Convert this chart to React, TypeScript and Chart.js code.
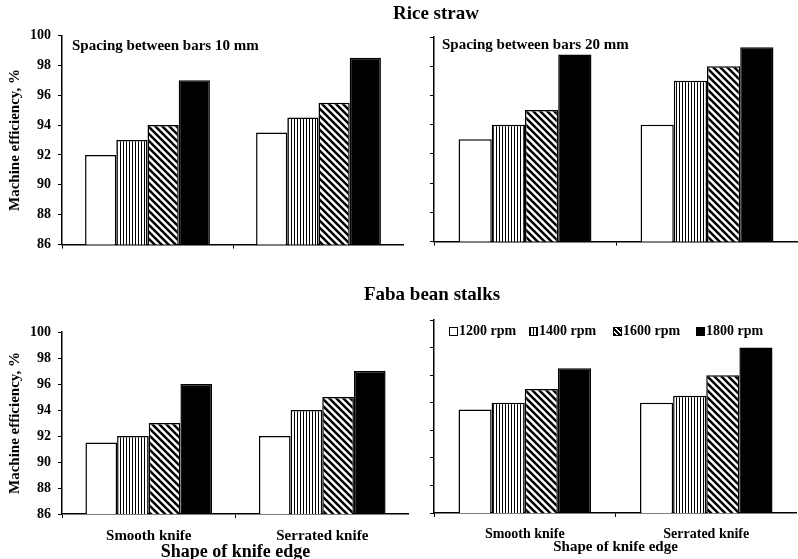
import React, { useEffect, useRef } from 'react';
import { Chart, registerables } from 'chart.js';

Chart.register(...registerables);

const categories = ['Smooth knife', 'Serrated knife'];
const seriesNames = ['1200 rpm', '1400 rpm', '1600 rpm', '1800 rpm'];
const yTickValues = [86, 88, 90, 92, 94, 96, 98, 100];

// Rice straw, spacing 10 mm
const rice10_1200 = [92, 93.5];
const rice10_1400 = [93, 94.5];
const rice10_1600 = [94, 95.5];
const rice10_1800 = [97, 98.5];
// Rice straw, spacing 20 mm
const rice20_1200 = [93, 94];
const rice20_1400 = [94, 97];
const rice20_1600 = [95, 98];
const rice20_1800 = [98.8, 99.3];
// Faba bean stalks, spacing 10 mm
const faba10_1200 = [91.5, 92];
const faba10_1400 = [92, 94];
const faba10_1600 = [93, 95];
const faba10_1800 = [96, 97];
// Faba bean stalks, spacing 20 mm
const faba20_1200 = [93.5, 94];
const faba20_1400 = [94, 94.5];
const faba20_1600 = [95, 96];
const faba20_1800 = [96.5, 98];

const FONT = '"Liberation Serif", "Times New Roman", serif';

function makePattern(kind: 'v' | 'd'): CanvasPattern | string {
  const c = document.createElement('canvas');
  if (kind === 'v') {
    c.width = 3;
    c.height = 3;
    const g = c.getContext('2d')!;
    g.fillStyle = '#fff';
    g.fillRect(0, 0, 3, 3);
    g.fillStyle = '#000';
    g.fillRect(0, 0, 1, 3);
    return g.createPattern(c, 'repeat') || '#888';
  }
  const s = 7;
  c.width = s;
  c.height = s;
  const g = c.getContext('2d')!;
  g.fillStyle = '#fff';
  g.fillRect(0, 0, s, s);
  g.strokeStyle = '#000';
  g.lineWidth = 2.5;
  for (let k = -1; k <= 1; k++) {
    g.beginPath();
    g.moveTo(-1, k * s - 1);
    g.lineTo(s + 1, (k + 1) * s + 1);
    g.stroke();
  }
  return g.createPattern(c, 'repeat') || '#888';
}

type Panel = {
  left: number;
  top: number;
  width: number;
  height: number;
  padTop: number;
  yWidth: number;
  xHeight: number;
  showY: boolean;
  showX: boolean;
  xTickSize: number;
  xTitleSize: number;
  xTitlePad: number;
  values: number[][];
};

const panels: Panel[] = [
  { left: 0, top: 20, width: 404, height: 240, padTop: 14, yWidth: 62, xHeight: 6, showY: true, showX: false, xTickSize: 15, xTitleSize: 18, xTitlePad: 0,
    values: [rice10_1200, rice10_1400, rice10_1600, rice10_1800] },
  { left: 400, top: 20, width: 398, height: 237, padTop: 17, yWidth: 34, xHeight: 6, showY: false, showX: false, xTickSize: 14, xTitleSize: 15, xTitlePad: 0,
    values: [rice20_1200, rice20_1400, rice20_1600, rice20_1800] },
  { left: 0, top: 300, width: 409, height: 259, padTop: 32, yWidth: 62, xHeight: 45, showY: true, showX: true, xTickSize: 15, xTitleSize: 18, xTitlePad: -2,
    values: [faba10_1200, faba10_1400, faba10_1600, faba10_1800] },
  { left: 400, top: 300, width: 397, height: 259, padTop: 20, yWidth: 34, xHeight: 46, showY: false, showX: true, xTickSize: 14, xTitleSize: 15, xTitlePad: 4,
    values: [faba20_1200, faba20_1400, faba20_1600, faba20_1800] },
];

function buildConfig(p: Panel, fills: any[]): any {
  const datasets = seriesNames.map((name, i) => ({
    label: name,
    data: p.values[i],
    backgroundColor: fills[i],
    borderColor: '#000',
    borderWidth: 1.5,
    barPercentage: 1,
    categoryPercentage: 0.73,
  }));
  return {
    type: 'bar',
    data: { labels: categories, datasets },
    options: {
      animation: false,
      responsive: false,
      maintainAspectRatio: false,
      events: [],
      layout: { padding: { top: p.padTop, left: 0, right: 0, bottom: 0 } },
      plugins: { legend: { display: false }, tooltip: { enabled: false }, title: { display: false } },
      scales: {
        x: {
          grid: { display: true, drawOnChartArea: false, drawTicks: true, tickLength: 4, color: '#000', lineWidth: 1 },
          border: { display: true, color: '#000', width: 1.5 },
          ticks: {
            display: p.showX,
            color: '#000',
            padding: 9,
            font: { family: FONT, size: p.xTickSize, weight: 'bold' },
          },
          title: {
            display: p.showX,
            text: 'Shape of knife edge',
            color: '#000',
            font: { family: FONT, size: p.xTitleSize, weight: 'bold', lineHeight: 1 },
            padding: { top: 0, bottom: p.xTitlePad },
          },
          afterFit: (s: any) => {
            s.height = p.xHeight;
          },
        },
        y: {
          min: 86,
          max: 100,
          afterBuildTicks: (s: any) => {
            s.ticks = yTickValues.map((v) => ({ value: v }));
          },
          grid: { display: true, drawOnChartArea: false, drawTicks: true, tickLength: 4, color: '#000', lineWidth: 1 },
          border: { display: true, color: '#000', width: 1.5 },
          ticks: {
            color: '#000',
            padding: 7,
            font: { family: FONT, size: 14, weight: 'bold' },
            callback: (v: any) => (p.showY ? String(v) : ''),
          },
          title: {
            display: p.showY,
            text: 'Machine efficiency, %',
            color: '#000',
            font: { family: FONT, size: 15, weight: 'bold', lineHeight: 1.2 },
            padding: { top: 6, bottom: 0 },
          },
          afterFit: (s: any) => {
            s.width = p.yWidth;
          },
        },
      },
    },
  };
}

const textBase: React.CSSProperties = {
  position: 'absolute',
  fontFamily: FONT,
  fontWeight: 'bold',
  color: '#000',
  whiteSpace: 'nowrap',
};

const legendFills = [
  '#fff',
  'repeating-linear-gradient(90deg, #000 0 1px, #fff 1px 3px)',
  'repeating-linear-gradient(45deg, #000 0 1.5px, #fff 1.5px 3.5px)',
  '#000',
];
const legendLefts = [449, 529, 613, 696];

export default function App() {
  const r0 = useRef<HTMLCanvasElement>(null);
  const r1 = useRef<HTMLCanvasElement>(null);
  const r2 = useRef<HTMLCanvasElement>(null);
  const r3 = useRef<HTMLCanvasElement>(null);
  const refs = [r0, r1, r2, r3];

  useEffect(() => {
    const fills = ['#fff', makePattern('v'), makePattern('d'), '#000'];
    const charts = panels.map((p, i) => new Chart(refs[i].current as HTMLCanvasElement, buildConfig(p, fills)));
    return () => charts.forEach((c) => c.destroy());
  }, []);

  return (
    <div style={{ position: 'fixed', left: 0, top: 0, width: 798, height: 559, background: '#fff', overflow: 'hidden' }}>
      {panels.map((p, i) => (
        <canvas
          key={i}
          ref={refs[i]}
          width={p.width}
          height={p.height}
          style={{ position: 'absolute', left: p.left, top: p.top, width: p.width, height: p.height }}
        />
      ))}
      <div style={{ ...textBase, left: 336, width: 200, top: 3, fontSize: 19, lineHeight: '20px', textAlign: 'center' }}>Rice straw</div>
      <div style={{ ...textBase, left: 332, width: 200, top: 284, fontSize: 19, lineHeight: '20px', textAlign: 'center' }}>Faba bean stalks</div>
      <div style={{ ...textBase, left: 72, top: 36, fontSize: 15, lineHeight: '18px' }}>Spacing between bars 10 mm</div>
      <div style={{ ...textBase, left: 442, top: 35, fontSize: 15, lineHeight: '18px' }}>Spacing between bars 20 mm</div>
      {seriesNames.map((name, i) => (
        <div key={name} style={{ ...textBase, left: legendLefts[i], top: 322, fontSize: 14, lineHeight: '18px', display: 'flex', alignItems: 'center' }}>
          <span style={{ display: 'inline-block', width: 7, height: 7, border: '1px solid #000', background: legendFills[i], marginRight: 1 }} />
          <span>{name}</span>
        </div>
      ))}
    </div>
  );
}
